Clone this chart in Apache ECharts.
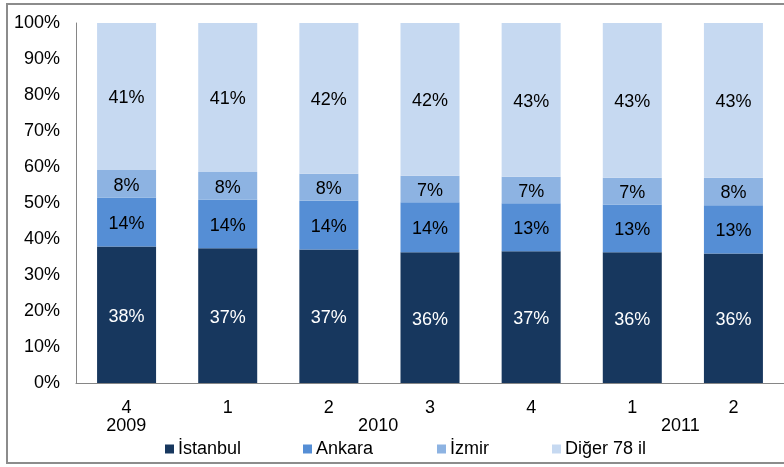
<!DOCTYPE html>
<html>
<head>
<meta charset="utf-8">
<script src="https://cdn.jsdelivr.net/npm/echarts@6/dist/echarts.min.js"></script>
<style>
html,body{margin:0;padding:0;background:#fff;}
#chart{width:784px;height:467px;}
</style>
</head>
<body>
<div id="chart"></div>
<script>
// Categories (quarter labels) and their year groups
var quarters = ['4', '1', '2', '3', '4', '1', '2'];
var quarterYears = ['2009', '2010', '2010', '2010', '2010', '2011', '2011'];

// Series values (% share)
var istanbul = [37.9, 37.4, 37.1, 36.3, 36.6, 36.3, 36.0];
var ankara   = [13.6, 13.6, 13.5, 13.9, 13.3, 13.3, 13.4];
var izmir    = [7.7, 7.6, 7.5, 7.4, 7.4, 7.4, 7.6];
var diger    = [40.8, 41.4, 41.9, 42.4, 42.7, 43.0, 43.0];

var seriesNames = ['İstanbul', 'Ankara', 'İzmir', 'Diğer 78 il'];

// Year group centres computed from category indices
var yearCentres = {};
(function () {
  var acc = {};
  quarterYears.forEach(function (y, i) {
    if (!acc[y]) acc[y] = [];
    acc[y].push(i);
  });
  Object.keys(acc).forEach(function (y) {
    var a = acc[y];
    yearCentres[(a[0] + a[a.length - 1]) / 2] = y;
  });
})();

var FONT = '"Liberation Sans", Arial, sans-serif';
var FS = 18;
var colors = ['#17375E', '#558ED5', '#8DB3E2', '#C6D9F1'];
var dataSets = [istanbul, ankara, izmir, diger];

var chart = echarts.init(document.getElementById('chart'), null, {renderer: 'canvas'});

var series = dataSets.map(function (d, i) {
  return {
    name: seriesNames[i],
    type: 'bar',
    stack: 'total',
    barWidth: 59,
    xAxisIndex: 0,
    yAxisIndex: 0,
    data: d,
    itemStyle: {color: colors[i]},
    label: {
      show: true,
      position: 'inside',
      offset: [0, 2],
      fontFamily: FONT,
      fontSize: FS,
      color: i === 0 ? '#ffffff' : '#000000',
      formatter: function (p) { return Math.round(p.value) + '%'; }
    },
    emphasis: {disabled: true},
    animation: false
  };
});

var legendLefts = [160, 298, 432, 547];
var legends = seriesNames.map(function (n, i) {
  return {
    data: [n],
    left: legendLefts[i],
    top: 435,
    itemWidth: 9,
    itemHeight: 9,
    icon: 'rect',
    selectedMode: false,
    textStyle: {fontFamily: FONT, fontSize: FS, color: '#000', padding: [0, 0, 0, -1]}
  };
});

var gridBox = {left: 76, top: 23, width: 709, height: 360, containLabel: false};

chart.setOption({
  animation: false,
  backgroundColor: '#ffffff',
  grid: [gridBox, Object.assign({}, gridBox)],
  legend: legends,
  xAxis: [
    {
      type: 'category',
      gridIndex: 0,
      data: quarters,
      axisLine: {show: true, lineStyle: {color: '#868686', width: 1}},
      axisTick: {show: false},
      axisLabel: {fontFamily: FONT, fontSize: FS, color: '#000', margin: 16, interval: 0}
    },
    {
      type: 'value',
      gridIndex: 1,
      position: 'bottom',
      min: -0.5,
      max: quarters.length - 0.5,
      interval: 0.5,
      axisLine: {show: false},
      axisTick: {show: false},
      splitLine: {show: false},
      axisLabel: {
        fontFamily: FONT, fontSize: FS, color: '#000', margin: 34,
        showMinLabel: true, showMaxLabel: true,
        formatter: function (v) { return yearCentres[v] || ''; }
      }
    }
  ],
  yAxis: [
    {
      type: 'value',
      gridIndex: 0,
      min: 0,
      max: 100,
      interval: 10,
      axisLine: {show: true, lineStyle: {color: '#868686', width: 1}},
      axisTick: {show: false},
      splitLine: {show: false},
      axisLabel: {fontFamily: FONT, fontSize: FS, color: '#000', margin: 16, formatter: '{value}%'}
    },
    {
      type: 'value',
      gridIndex: 1,
      min: 0,
      max: 100,
      interval: 10,
      show: false
    }
  ],
  series: series,
  graphic: [{
    type: 'rect',
    shape: {x: 7, y: 4, width: 800, height: 459},
    style: {fill: null, stroke: '#8c8c8c', lineWidth: 2},
    silent: true,
    z: 100
  }]
});
</script>
</body>
</html>
